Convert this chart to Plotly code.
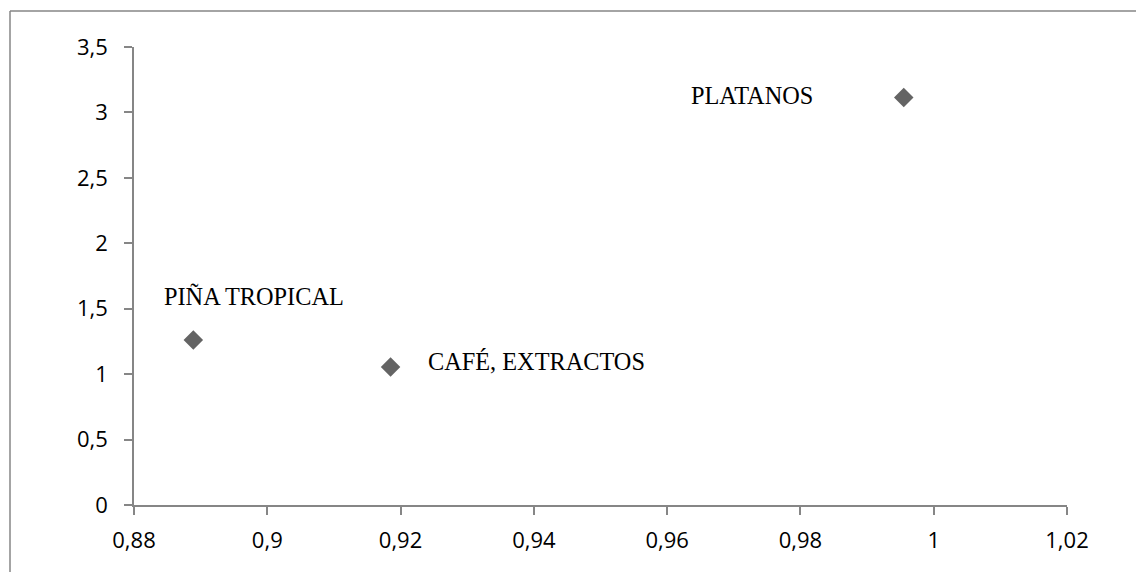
import plotly.graph_objects as go

names = ["PIÑA TROPICAL", "CAFÉ, EXTRACTOS", "PLATANOS"]
x_vals = [0.8889, 0.9185, 0.9955]
y_vals = [1.26, 1.055, 3.115]

# label offsets relative to each point (pixels)
label_anchor = ["center", "left", "right"]
label_dx = [61, 35, -89]
label_dy = [44, 5, 2]

fig = go.Figure()
fig.add_trace(go.Scatter(
    x=x_vals, y=y_vals, mode="markers",
    marker=dict(symbol="diamond", size=15, color="#646464", line=dict(width=0)),
    showlegend=False, hoverinfo="skip",
))

for n, xv, yv, a, dx, dy in zip(names, x_vals, y_vals, label_anchor, label_dx, label_dy):
    fig.add_annotation(
        x=xv, y=yv, text=n, showarrow=False, xanchor=a, yanchor="middle",
        xshift=dx, yshift=dy,
        font=dict(family="Liberation Serif", size=24.3, color="#000000"),
    )

W, H = 1128, 564
ml, mt = 126, 39
pw, ph = 933, 458
mr, mb = W - ml - pw, H - mt - ph

# outer chart border (top and left edges visible in frame)
bx0 = (2 - ml) / pw
bx1 = (W + 40 - ml) / pw
by_top = (H - mb - 3) / ph
by_bot = -(mb + 40) / ph
fig.add_shape(type="line", xref="paper", yref="paper", x0=bx0, x1=bx1, y0=by_top, y1=by_top,
              line=dict(color="#868686", width=1.5), layer="below")
fig.add_shape(type="line", xref="paper", yref="paper", x0=bx0, x1=bx0, y0=by_bot, y1=by_top,
              line=dict(color="#868686", width=1.5), layer="below")

axis_common = dict(
    showgrid=False, zeroline=False, showline=True, linecolor="#868686", linewidth=1.5,
    ticks="outside", ticklen=8, tickcolor="#868686", tickwidth=1.5,
    tickfont=dict(family="Open Sans", size=22, color="#000000"),
)

fig.update_xaxes(range=[0.88, 1.02], dtick=0.02, tick0=0.88, ticklabelstandoff=7, **axis_common)
fig.update_yaxes(range=[0, 3.5], dtick=0.5, tick0=0, ticklabelstandoff=12, **axis_common)

fig.update_layout(
    width=W, height=H, margin=dict(l=ml, r=mr, t=mt, b=mb, autoexpand=False),
    plot_bgcolor="white", paper_bgcolor="white", separators=",.",
)

fig.write_html("out.html")
